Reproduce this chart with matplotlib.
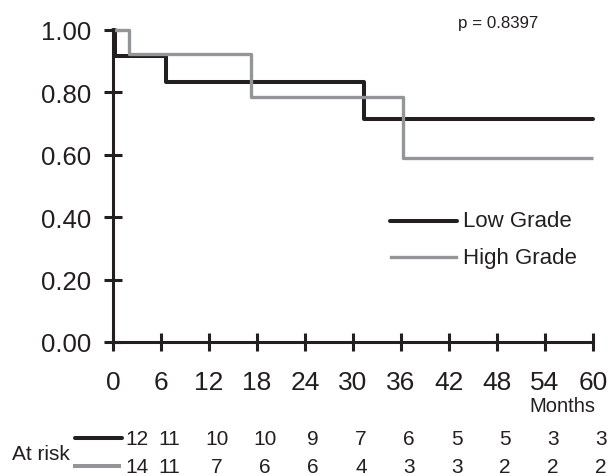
import matplotlib
matplotlib.use("Agg")
import matplotlib.pyplot as plt
from matplotlib.lines import Line2D

plt.rcParams['font.family'] = ['Liberation Sans', 'DejaVu Sans']

# Kaplan-Meier steps (months, survival)
low_t = [0, 0.25, 6.6, 31.4, 60]
low_s = [1.0, 0.917, 0.833, 0.714, 0.714]
high_t = [0, 2.0, 17.2, 36.2, 60]
high_s = [1.0, 0.923, 0.786, 0.589, 0.589]

months = [0, 6, 12, 18, 24, 30, 36, 42, 48, 54, 60]
risk_low = [12, 11, 10, 10, 9, 7, 6, 5, 5, 3, 3]
risk_high = [14, 11, 7, 6, 6, 4, 3, 3, 2, 2, 2]
yticks = [0.0, 0.2, 0.4, 0.6, 0.8, 1.0]

dark = '#231f20'
gray = '#939598'

fig = plt.figure(figsize=(6.09, 4.77), dpi=100)
ax = fig.add_axes([113 / 609, 134 / 477, 480 / 609, 312 / 477])

ax.step(low_t, low_s, where='post', color=dark, lw=2.9, clip_on=False,
        solid_capstyle='round', solid_joinstyle='round')
ax.step(high_t, high_s, where='post', color=gray, lw=2.4, clip_on=False,
        solid_capstyle='butt')

ax.set_xlim(0, 60)
ax.set_ylim(0, 1.0)
ax.set_xticks(months)
ax.set_yticks(yticks)
ax.set_yticklabels(['%.2f' % v for v in yticks])

for s in ['top', 'right']:
    ax.spines[s].set_visible(False)
for s in ['left', 'bottom']:
    ax.spines[s].set_linewidth(2.2)
    ax.spines[s].set_color(dark)

ax.tick_params(axis='both', direction='inout', length=13, width=2.2, color=dark,
               labelcolor=dark)
ax.tick_params(axis='y', labelsize=18.5, pad=9)
ax.tick_params(axis='x', labelsize=19, pad=14)

# legend
ax.add_line(Line2D([0.577, 0.717], [0.388, 0.388], transform=ax.transAxes,
                   color=dark, lw=2.9, solid_capstyle='round', clip_on=False))
ax.add_line(Line2D([0.58, 0.714], [0.272, 0.272], transform=ax.transAxes,
                   color=gray, lw=2.4, clip_on=False))
ax.text(0.729, 0.388, 'Low Grade', transform=ax.transAxes, fontsize=16,
        color=dark, ha='left', va='center')
ax.text(0.729, 0.272, 'High Grade', transform=ax.transAxes, fontsize=16,
        color=dark, ha='left', va='center')

ax.text(0.802, 1.024, 'p = 0.8397', transform=ax.transAxes, fontsize=12.2,
        color=dark, ha='center', va='center')

ax.text(1.004, -0.205, 'Months', transform=ax.transAxes, fontsize=14.5,
        color=dark, ha='right', va='center')

# at risk table
tr = ax.get_xaxis_transform()
y1, y2 = -0.308, -0.398
ax.text(-0.21, -0.358, 'At risk', transform=ax.transAxes, fontsize=15,
        color=dark, ha='left', va='center')
ax.add_line(Line2D([-0.079, 0.019], [y1, y1], transform=ax.transAxes,
                   color=dark, lw=2.9, solid_capstyle='round', clip_on=False))
ax.add_line(Line2D([-0.079, 0.0125], [y2, y2], transform=ax.transAxes,
                   color=gray, lw=2.9, clip_on=False))
for i, m in enumerate(months):
    if i == 0:
        x, ha = m + 1.5, 'left'
    else:
        x, ha = m + 1.0, 'center'
    ax.text(x, y1, str(risk_low[i]), transform=tr, fontsize=15, color=dark,
            ha=ha, va='center', clip_on=False)
    ax.text(x, y2, str(risk_high[i]), transform=tr, fontsize=15, color=dark,
            ha=ha, va='center', clip_on=False)

fig.savefig('out.png', dpi=100)
